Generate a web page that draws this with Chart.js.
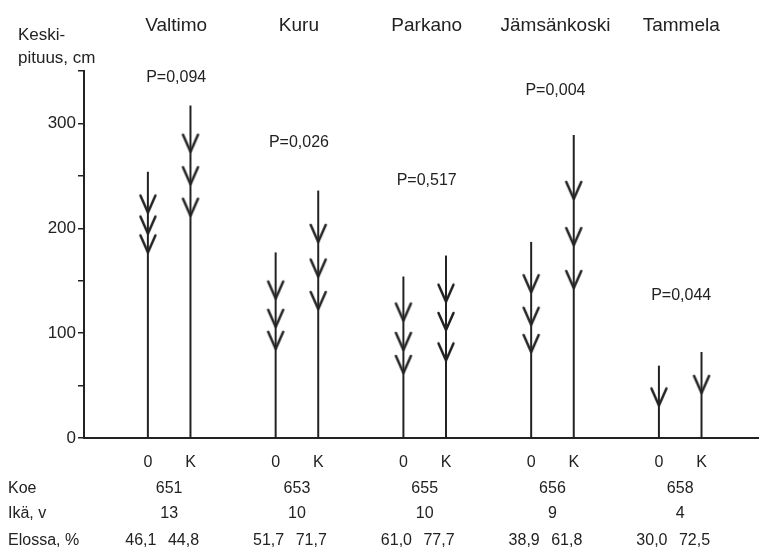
<!DOCTYPE html>
<html>
<head>
<meta charset="utf-8">
<script src="https://cdn.jsdelivr.net/npm/chart.js@4"></script>
<style>
  html, body { margin: 0; padding: 0; background: #fff; }
  #wrap { width: 759px; height: 549px; }
</style>
</head>
<body>
<div id="wrap"><canvas id="chart" width="759" height="549"></canvas></div>
<script>
// --- data ---
const groups = ['Valtimo', 'Kuru', 'Parkano', 'Jämsänkoski', 'Tammela'];
const treatments = ['0', 'K'];
const pValues = ['P=0,094', 'P=0,026', 'P=0,517', 'P=0,004', 'P=0,044'];

// stem tops (cm), order: group0-0, group0-K, group1-0, ...
const stemTops = [254, 317, 177, 236, 154, 174, 187, 289, 69, 82];
// arrowhead tips (cm) on each stem
const arrowTips = [
    [215, 195, 177], [273, 242, 212],
    [133, 106, 85],  [187, 154, 123],
    [112, 84, 62],   [130, 103, 74],
    [139, 108, 82],  [228, 184, 143],
    [31],            [43]
];

const koe = ['651', '653', '655', '656', '658'];
const ika = ['13', '10', '10', '9', '4'];
const elossa = ['46,1', '44,8', '51,7', '71,7', '61,0', '77,7', '38,9', '61,8', '30,0', '72,5'];

const yTicks = [0, 100, 200, 300];

// --- layout (not data) ---
const pLabelBase = [82, 147, 185, 95, 300];   // baseline px of P labels
const titleShift = [7, 2, 2, 3, 1];
const INK = '#222';
const FONT = "'Liberation Sans', Arial, sans-serif";

function stemX(i) { return Math.floor(i / 2) * 3 + 1 + (i % 2); }

// arrowhead image, vertex in the centre
function makeArrow() {
    const c = document.createElement('canvas');
    c.width = 20; c.height = 40;
    const g = c.getContext('2d');
    g.strokeStyle = INK;
    g.lineWidth = 2.5;
    g.lineCap = 'round';
    g.lineJoin = 'round';
    g.beginPath();
    g.moveTo(2.5, 3);
    g.lineTo(10, 20);
    g.lineTo(17.5, 3);
    g.stroke();
    return c;
}
const arrowImg = makeArrow();

const datasets = [];
stemTops.forEach((top, i) => {
    datasets.push({
        data: [{ x: stemX(i), y: 0 }, { x: stemX(i), y: top }],
        showLine: true,
        borderColor: INK,
        borderWidth: 2,
        pointRadius: 0,
        pointHoverRadius: 0
    });
});
const tipPoints = [];
arrowTips.forEach((tips, i) => tips.forEach(v => tipPoints.push({ x: stemX(i), y: v })));
datasets.push({
    data: tipPoints,
    showLine: false,
    pointStyle: arrowImg,
    pointRadius: 5,
    pointHoverRadius: 5
});

const textPlugin = {
    id: 'texts',
    afterDraw(chart) {
        const ctx = chart.ctx;
        const xs = chart.scales.x;
        ctx.save();
        ctx.fillStyle = INK;
        ctx.textBaseline = 'alphabetic';

        // y title
        ctx.textAlign = 'left';
        ctx.font = '17px ' + FONT;
        ctx.fillText('Keski-', 18, 40);
        ctx.fillText('pituus, cm', 18, 63);

        // group names and P values
        groups.forEach((name, g) => {
            const cx = (xs.getPixelForValue(g * 3 + 1) + xs.getPixelForValue(g * 3 + 2)) / 2 + titleShift[g];
            ctx.textAlign = 'center';
            ctx.font = '19px ' + FONT;
            ctx.fillText(name, cx, 31);
            ctx.font = '16px ' + FONT;
            ctx.fillText(pValues[g], cx, pLabelBase[g]);
        });

        // bottom table
        ctx.font = '16px ' + FONT;
        ctx.textAlign = 'left';
        ctx.fillText('Koe', 8, 493);
        ctx.fillText('Ikä, v', 8, 518);
        ctx.fillText('Elossa, %', 8, 545);
        ctx.textAlign = 'center';
        stemTops.forEach((t, i) => {
            const px = xs.getPixelForValue(stemX(i));
            ctx.fillText(treatments[i % 2], px, 467);
            ctx.fillText(elossa[i], px - 7, 545);
        });
        groups.forEach((name, g) => {
            const cx = (xs.getPixelForValue(g * 3 + 1) + xs.getPixelForValue(g * 3 + 2)) / 2;
            ctx.fillText(koe[g], cx, 493);
            ctx.fillText(ika[g], cx, 518);
        });
        ctx.restore();
    }
};

Chart.defaults.font.family = FONT;

new Chart(document.getElementById('chart'), {
    type: 'scatter',
    data: { datasets: datasets },
    options: {
        responsive: false,
        animation: false,
        events: [],
        layout: { autoPadding: false, padding: { top: 71, left: 0, right: 0, bottom: 0 } },
        plugins: { legend: { display: false }, tooltip: { enabled: false } },
        scales: {
            x: {
                type: 'linear',
                min: -0.5,
                max: 15.35,
                ticks: { display: false },
                grid: { display: false, drawTicks: false },
                border: { display: true, color: INK, width: 2 },
                afterFit(s) { s.height = 111; }
            },
            y: {
                min: 0,
                max: 350,
                ticks: {
                    stepSize: 50,
                    color: INK,
                    font: { size: 17 },
                    padding: 2,
                    callback: v => yTicks.includes(v) ? String(v) : ''
                },
                grid: { drawOnChartArea: false, drawTicks: true, tickLength: 6, color: INK, lineWidth: 1.5 },
                border: { display: true, color: INK, width: 2 },
                afterFit(s) { s.width = 84; }
            }
        }
    },
    plugins: [textPlugin]
});
</script>
</body>
</html>
